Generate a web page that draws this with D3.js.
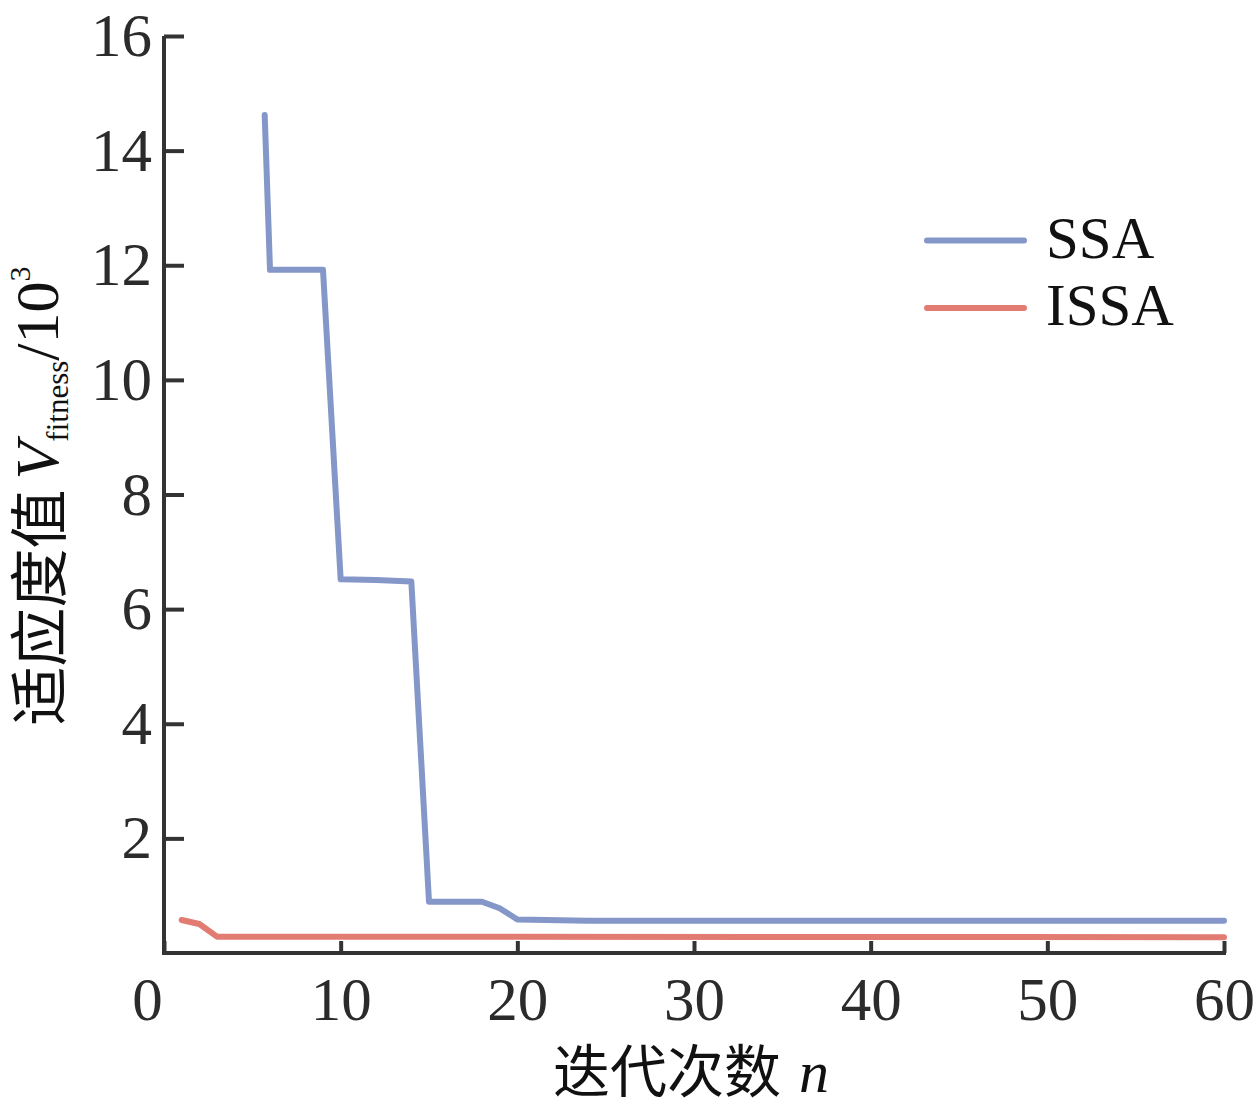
<!DOCTYPE html>
<html>
<head>
<meta charset="utf-8">
<script src="https://cdn.jsdelivr.net/npm/d3@7"></script>
<style>
  html, body { margin: 0; padding: 0; background: #fff; }
  svg { display: block; }
</style>
</head>
<body>
<svg id="chart" width="1257" height="1111"></svg>
<script>
// ---- data ----
const ssaIter   = [5.7, 6, 9, 10, 12, 14, 15, 18, 19, 20, 24, 60];
const ssaValue  = [14.62, 11.92, 11.92, 6.52, 6.51, 6.48, 0.895, 0.895, 0.78, 0.586, 0.563, 0.563];
const issaIter  = [1, 2, 3, 60];
const issaValue = [0.576, 0.506, 0.285, 0.275];
const seriesNames = ["SSA", "ISSA"];
const xTicks = [0, 10, 20, 30, 40, 50, 60];
const yTicks = [2, 4, 6, 8, 10, 12, 14, 16];

const colors = { SSA: "#8497c8", ISSA: "#e27b72" };
const serif = "'Liberation Serif', 'Times New Roman', serif";
const cjk = "'Noto Sans CJK SC', 'Noto Sans CJK JP', sans-serif";
const axisColor = "#333333";

const svg = d3.select("#chart");
const x = d3.scaleLinear().domain([0, 60]).range([164, 1224]);
const y = d3.scaleLinear().domain([0, 16]).range([953, 36]);

// ---- axes ----
const xAxis = svg.append("g")
  .attr("transform", `translate(0,${y(0)})`)
  .call(d3.axisBottom(x).tickValues(xTicks).tickSizeInner(-12).tickSizeOuter(0).tickFormat(d3.format("d")));
const yAxis = svg.append("g")
  .attr("transform", `translate(${x(0)},0)`)
  .call(d3.axisLeft(y).tickValues(yTicks).tickSizeInner(-20).tickSizeOuter(0).tickFormat(d3.format("d")));

[xAxis, yAxis].forEach(g => {
  g.select(".domain").attr("stroke", axisColor).attr("stroke-width", 4);
  g.selectAll(".tick line").attr("stroke", axisColor).attr("stroke-width", 4);
  g.selectAll(".tick text")
    .attr("fill", "#2b2b2b")
    .style("font-family", serif)
    .style("font-size", "61px");
});
xAxis.selectAll(".tick text").attr("y", 67).attr("dy", "0");
xAxis.selectAll(".tick text").filter(d => d === 0).attr("dx", -17);
yAxis.selectAll(".tick text").attr("x", -12).attr("dy", "0.32em");
yAxis.select(".domain").attr("d", `M0,${y(16)}V${y(0) + 2}`);
xAxis.select(".domain").attr("d", `M${x(0) - 2},0H${x(60) + 2}`);

// ---- lines ----
const line = d3.line().x(d => x(d[0])).y(d => y(d[1]));
const ssaData = ssaIter.map((v, i) => [v, ssaValue[i]]);
const issaData = issaIter.map((v, i) => [v, issaValue[i]]);

svg.append("path").datum(issaData)
  .attr("d", line).attr("fill", "none")
  .attr("stroke", colors.ISSA).attr("stroke-width", 6)
  .attr("stroke-linecap", "round").attr("stroke-linejoin", "round");
svg.append("path").datum(ssaData)
  .attr("d", line).attr("fill", "none")
  .attr("stroke", colors.SSA).attr("stroke-width", 6)
  .attr("stroke-linecap", "round").attr("stroke-linejoin", "round");

// ---- legend ----
const legend = svg.append("g");
seriesNames.forEach((name, i) => {
  const ly = 240.5 + i * 67.5;
  legend.append("line")
    .attr("x1", 927).attr("x2", 1024).attr("y1", ly).attr("y2", ly)
    .attr("stroke", colors[name]).attr("stroke-width", 6).attr("stroke-linecap", "round");
  legend.append("text")
    .attr("x", 1046).attr("y", ly + 17)
    .attr("fill", "#111")
    .style("font-family", serif).style("font-size", "59px")
    .text(name);
});

// ---- axis titles ----
const xt = svg.append("text")
  .attr("x", 691).attr("y", 1092)
  .attr("text-anchor", "middle").attr("fill", "#111");
xt.append("tspan").style("font-family", cjk).style("font-size", "57px").text("迭代次数");
xt.append("tspan").style("font-family", serif).style("font-size", "60px").style("font-style", "italic").attr("dx", 18).text("n");

const yt = svg.append("text")
  .attr("transform", "translate(58,496) rotate(-90)")
  .attr("text-anchor", "middle").attr("fill", "#111");
yt.append("tspan").style("font-family", cjk).style("font-size", "59px").attr("dy", 3).text("适应度值");
yt.append("tspan").style("font-family", serif).style("font-size", "62px").style("font-style", "italic").attr("dx", 10).attr("dy", -3).text("V");
yt.append("tspan").style("font-family", serif).style("font-size", "31px").attr("dy", 10).text("fitness");
yt.append("tspan").style("font-family", serif).style("font-size", "62px").attr("dy", -10).text("/10");
yt.append("tspan").style("font-family", serif).style("font-size", "30px").attr("dy", -28).text("3");
</script>
</body>
</html>
